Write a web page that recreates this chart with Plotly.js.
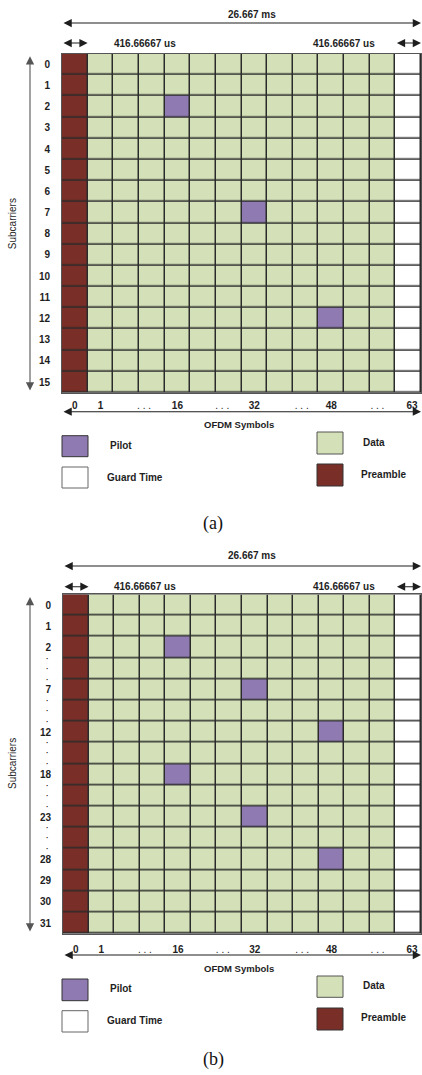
<!DOCTYPE html>
<html>
<head>
<meta charset="utf-8">
<script src="https://cdn.plot.ly/plotly-3.0.1.min.js"></script>
<style>html,body{margin:0;padding:0;background:#fff;}#chart{width:422px;height:1075px;}</style>
</head>
<body>
<div id="chart"></div>
<script>
// ---------------- data ----------------
const nCols = 14;                       // preamble + 12 data columns + guard
const rowsA = [0,1,2,3,4,5,6,7,8,9,10,11,12,13,14,15];
const rowsB = [0,1,2,3,4,5,6,7,8,9,10,11,12,13,14,15];
const yTickTextA = ['0','1','2','3','4','5','6','7','8','9','10','11','12','13','14','15'];
const yTickTextB = ['0','1','2','','7','','12','','18','','23','','28','29','30','31'];
const dotRowsB = [3,5,7,9,11];
const pilotRowsA = [2,7,12];
const pilotColsA = [4,7,10];
const pilotRowsB = [2,4,6,8,10,12];
const pilotColsB = [4,7,10,4,7,10];
const preambleCol = 0;
const guardCol = 13;
const xTickVals = [0,1,2.7,4,5.75,7,8.85,10,11.8,13.15];
const xTickText = ['0','1','. . .','16','. . .','32','. . .','48','. . .','63'];
const frameLabel = '26.667 ms';
const symbolLabel = '416.66667 us';
const legendItems = ['Pilot','Guard Time','Data','Preamble'];

// cell codes: 0 preamble, 1 data, 2 pilot, 3 guard
const C_PRE = '#7a2e28', C_DATA = '#d4e1b8', C_PILOT = '#8f7bb2', C_GUARD = '#ffffff';

function buildZ(rows, pr, pc){
  const z = rows.map(() => { const r=[]; for(let c=0;c<nCols;c++){ r.push(c===preambleCol?0:(c===guardCol?3:1)); } return r; });
  pr.forEach((r,i)=>{ z[r][pc[i]] = 2; });
  return z;
}
const cols = Array.from({length:nCols},(_,i)=>i);
const zA = buildZ(rowsA, pilotRowsA, pilotColsA);
const zB = buildZ(rowsB, pilotRowsB, pilotColsB);

const cscale = [[0,C_PRE],[0.1667,C_PRE],[0.1667,C_DATA],[0.5,C_DATA],[0.5,C_PILOT],[0.8333,C_PILOT],[0.8333,C_GUARD],[1,C_GUARD]];
const hm = (z,xa,ya) => ({type:'heatmap', z:z, x:cols, y:rowsA, xaxis:xa, yaxis:ya, colorscale:cscale, zmin:0, zmax:3,
  showscale:false, xgap:1.5, ygap:1.5, hoverinfo:'skip'});

// ---------------- layout geometry (page pixels) ----------------
const W=422, H=1075;
const FONT = 'Liberation Sans, Arial, sans-serif';
const panels = [
  {xa:'x', ya:'y', top:53.7, bottom:392.7, left:62, right:421, ticks:yTickTextA, standX:3,
   topArrow:23, topText:14, shortY:43, shortText:43, botArrow:411.7, ofdm:424.3,
   leg:{pilot:[435.7,456.7,445], guard:[467,488,477], data:[432,454,442], pre:[464,486,474]}, caption:'(a)', capY:523},
  {xa:'x2', ya:'y2', top:594.4, bottom:933.6, left:63, right:421, ticks:yTickTextB, standX:6,
   topArrow:566, topText:555, shortY:586.7, shortText:586.5, botArrow:955, ofdm:968.3,
   leg:{pilot:[979,1000.7,989], guard:[1010.7,1032,1021], data:[976,997.3,986], pre:[1008,1030,1018]}, caption:'(b)', capY:1059}
];

const layout = {width:W, height:H, margin:{l:0,r:0,t:0,b:0}, paper_bgcolor:'#fff', plot_bgcolor:'#2b2b2b',
  showlegend:false, annotations:[], shapes:[]};

const txtFont = {family:FONT, size:10, color:'#1e1e1e', weight:700};
const arrowCommon = {text:'', showarrow:true, arrowside:'end+start', arrowhead:2, startarrowhead:2,
  arrowsize:1.5, startarrowsize:1.5, arrowwidth:1.1, arrowcolor:'#1e1e1e', standoff:0, startstandoff:0};
const txt = o => Object.assign({showarrow:false, xanchor:'center', yanchor:'middle', font:txtFont}, o);
const xTickHtml = xTickText.map(t => t.indexOf('.')>=0 ? '<span style="font-weight:normal">'+t+'</span>' : t);

panels.forEach((p,i)=>{
  const ax = i===0?'xaxis':'xaxis2', ay = i===0?'yaxis':'yaxis2';
  const hgt = p.bottom - p.top, wid = p.right - p.left;
  const fy = px => (p.bottom - px)/hgt;          // page px -> y domain fraction
  const fx = px => (px - p.left)/wid;            // page px -> x domain fraction
  const yd = p.ya + ' domain', xd = p.xa + ' domain';
  layout[ax] = {domain:[p.left/W, p.right/W], range:[-0.5,13.5], tickvals:xTickVals, ticktext:xTickHtml,
    ticks:'', showgrid:false, zeroline:false, showline:true, mirror:true, linecolor:'#555', linewidth:1,
    tickfont:txtFont, ticklabelstandoff:p.standX, fixedrange:true, anchor:p.ya};
  layout[ay] = {domain:[1-p.bottom/H, 1-p.top/H], range:[15.5,-0.5], tickvals:rowsA, ticktext:p.ticks,
    ticks:'', showgrid:false, zeroline:false, showline:true, mirror:true, linecolor:'#555', linewidth:1,
    tickfont:txtFont, ticklabelstandoff:9, fixedrange:true, anchor:p.xa};
  const A = layout.annotations;
  // arrows
  A.push(Object.assign({}, arrowCommon, {xref:p.xa, axref:p.xa, x:13.5, ax:-0.5, yref:yd, y:fy(p.topArrow), ayref:'pixel', ay:0}));
  A.push(Object.assign({}, arrowCommon, {xref:p.xa, axref:p.xa, x:0.5, ax:-0.5, yref:yd, y:fy(p.shortY), ayref:'pixel', ay:0}));
  A.push(Object.assign({}, arrowCommon, {xref:p.xa, axref:p.xa, x:13.5, ax:12.5, yref:yd, y:fy(p.shortY), ayref:'pixel', ay:0}));
  A.push(Object.assign({}, arrowCommon, {xref:p.xa, axref:p.xa, x:13.5, ax:-0.5, yref:yd, y:fy(p.botArrow), ayref:'pixel', ay:0}));
  A.push(Object.assign({}, arrowCommon, {arrowcolor:'#555', xref:xd, x:fx(30), axref:'pixel', ax:0, yref:p.ya, y:15.4, ayref:p.ya, ay:-0.45}));
  // texts
  A.push(txt({xref:xd, x:fx(252), yref:yd, y:fy(p.topText), text:frameLabel}));
  A.push(txt({xref:xd, x:fx(145), yref:yd, y:fy(p.shortText), text:symbolLabel}));
  A.push(txt({xref:xd, x:fx(344), yref:yd, y:fy(p.shortText), text:symbolLabel}));
  A.push(txt({xref:xd, x:fx(239), yref:yd, y:fy(p.ofdm), text:'OFDM Symbols', font:Object.assign({},txtFont,{size:9.5})}));
  A.push(txt({xref:xd, x:fx(12), yref:yd, y:0.5, text:'Subcarriers', textangle:-90,
    font:{family:FONT, size:10, color:'#1e1e1e'}}));
  // legend
  const box = (x0,x1,yy,col,line) => layout.shapes.push({type:'rect', xref:xd, yref:yd, x0:fx(x0), x1:fx(x1), y0:fy(yy[1]), y1:fy(yy[0]),
      fillcolor:col, line:{color:line, width:1}});
  box(62,88,p.leg.pilot,C_PILOT,'#333');
  box(62,88,p.leg.guard,C_GUARD,'#666');
  box(317,343,p.leg.data,C_DATA,'#555');
  box(317,343,p.leg.pre,C_PRE,'#333');
  const lt = (x,yy,t) => A.push(txt({xref:xd, x:fx(x), xanchor:'left', yref:yd, y:fy(yy[2]), text:t}));
  lt(108,p.leg.pilot,legendItems[0]);
  lt(105,p.leg.guard,legendItems[1]);
  lt(361,p.leg.data,legendItems[2]);
  lt(359,p.leg.pre,legendItems[3]);
  // caption
  A.push(txt({xref:'paper', x:213/W, yref:'paper', y:1-p.capY/H, text:p.caption,
    font:{family:'Liberation Serif, Times New Roman, serif', size:18, color:'#111'}}));
});
// elided-row dots for panel (b)
dotRowsB.forEach(r=>{
  layout.annotations.push(txt({xref:'x2 domain', x:(48-63)/358, yref:'y2', y:r, text:'·<br>·<br>·',
    font:{family:FONT, size:8, color:'#1e1e1e', weight:700}}));
});

Plotly.newPlot('chart', [hm(zA,'x','y'), hm(zB,'x2','y2')], layout, {staticPlot:true});
</script>
</body>
</html>
